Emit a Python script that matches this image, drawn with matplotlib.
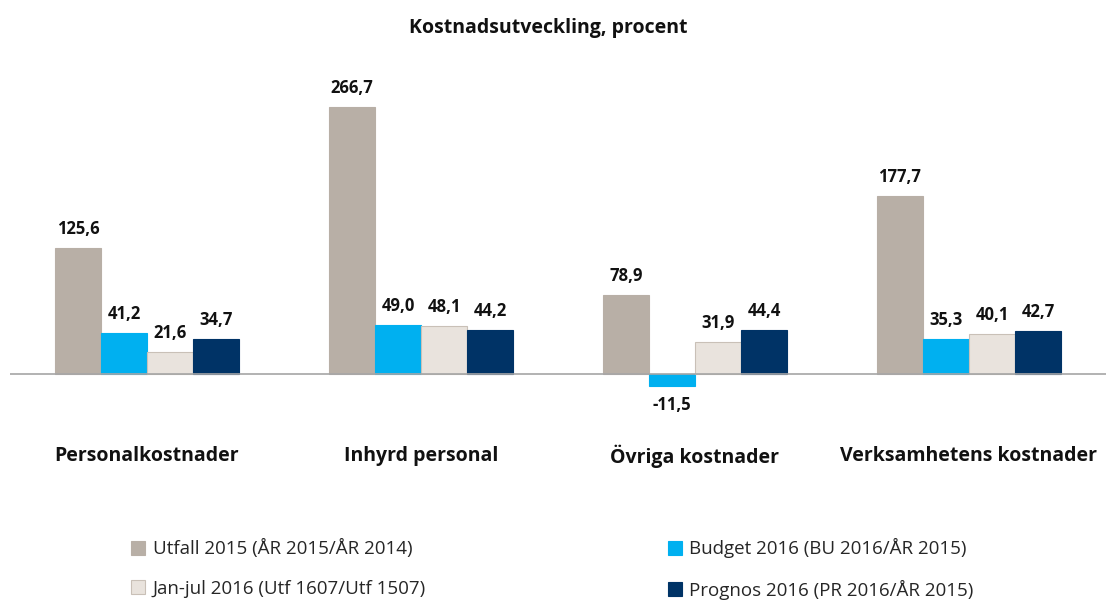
import matplotlib.pyplot as plt
import numpy as np
from matplotlib.patches import Patch

plt.rcParams['font.family'] = ['Open Sans', 'DejaVu Sans']

categories = ["Personalkostnader", "Inhyrd personal", "Övriga kostnader", "Verksamhetens kostnader"]
series_names = ["Utfall 2015 (ÅR 2015/ÅR 2014)", "Budget 2016 (BU 2016/ÅR 2015)",
                "Jan-jul 2016 (Utf 1607/Utf 1507)", "Prognos 2016 (PR 2016/ÅR 2015)"]
utfall = [125.6, 266.7, 78.9, 177.7]
budget = [41.2, 49.0, -11.5, 35.3]
janjul = [21.6, 48.1, 31.9, 40.1]
prognos = [34.7, 44.2, 44.4, 42.7]

colors = ["#B8AFA6", "#00B0F0", "#E9E3DD", "#003366"]
edges = ["#B8AFA6", "#00B0F0", "#C9C0B7", "#003366"]

fig = plt.figure(figsize=(11.07, 6.01), dpi=100)
# baseline at y=374px, ~1 px per unit
ax = fig.add_axes([10 / 1107, 1 - 400 / 601, 1096 / 1107, 330 / 601])

x = np.arange(len(categories))
width = 0.168
handles = []
for i, (vals, name) in enumerate(zip([utfall, budget, janjul, prognos], series_names)):
    pos = x + (i - 1.5) * width
    ax.bar(pos, vals, width, color=colors[i], edgecolor=edges[i], linewidth=0.8, label=name)
    handles.append(Patch(facecolor=colors[i], edgecolor=edges[i], linewidth=0.8, label=name))
    for xp, v in zip(pos, vals):
        label = f"{v:.1f}".replace(".", ",")
        if v >= 0:
            ax.text(xp, v + 10, label, ha="center", va="bottom", fontsize=12, fontweight="bold", color="#111111")
        else:
            ax.text(xp, v - 10, label, ha="center", va="top", fontsize=12, fontweight="bold", color="#111111")

ax.set_xlim(-0.5, 3.5)
ax.set_ylim(-26, 304)
ax.axhline(0, color="#A6A6A6", linewidth=1.2)
for s in ax.spines.values():
    s.set_visible(False)
ax.set_xticks([])
ax.set_yticks([])

for xi, cat in zip(x, categories):
    ax.text(xi, -82, cat, ha="center", va="center", fontsize=14, fontweight="bold", color="#111111")

fig.text(548 / 1107, 1 - 28 / 601, "Kostnadsutveckling, procent", ha="center", va="center",
         fontsize=14, fontweight="bold", color="#111111")

order = [0, 2, 1, 3]
fig.legend([handles[i] for i in order], [series_names[i] for i in order], ncol=2,
           loc="center", bbox_to_anchor=(552.5 / 1107, 1 - 569 / 601), frameon=False,
           fontsize=13.5, handlelength=0.75, handleheight=0.75, handletextpad=0.4,
           columnspacing=12.9, labelspacing=1.15, labelcolor="#262626")

fig.savefig("out.png", dpi=100)
